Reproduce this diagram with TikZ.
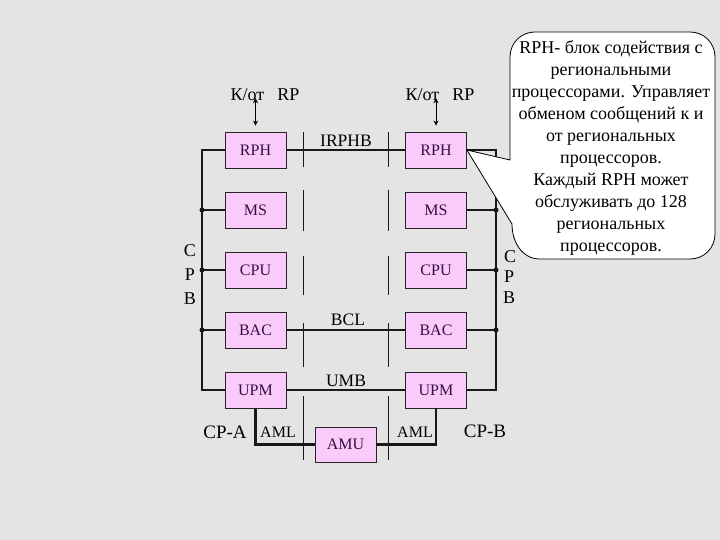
\documentclass[tikz,border=0pt]{standalone}
\usepackage{fontspec}
\setmainfont{Liberation Serif}
\newfontfamily\tnr{Liberation Serif}
\usetikzlibrary{arrows.meta}
\definecolor{bg}{HTML}{E4E4E4}
\definecolor{boxpink}{HTML}{FACAFA}
\definecolor{boxtext}{HTML}{35103F}
\begin{document}
\begin{tikzpicture}[x=1pt,y=-1pt,
  blk/.style={draw=black!85, line width=0.8pt, fill=boxpink, minimum width=61pt, minimum height=36pt, inner sep=0pt, text=boxtext, font=\tnr\fontsize{16}{18}\selectfont},
  bus/.style={line width=2.2pt, black!90},
  sepline/.style={line width=0.9pt, black!90},
  lbl/.style={inner sep=0pt, font=\tnr\fontsize{17.5}{20}\selectfont},
  cpb/.style={inner sep=0pt, font=\tnr\fontsize{18}{20}\selectfont},
  jdot/.style={circle, fill=black!90, inner sep=0pt, minimum size=5pt},
  dbl/.style={{Stealth[length=5pt,width=5pt]}-{Stealth[length=5pt,width=5pt]}, line width=1pt}
]
\fill[bg] (0,0) rectangle (720,540);
\useasboundingbox (0,0) rectangle (720,540);

% separators
\foreach \sx in {303,388}{
  \foreach \a/\b in {132/167,190/231,256/295,323/367,396/460}{
    \draw[sepline] (\sx,\a) -- (\sx,\b);
  }
}

% boxes
\node[blk] (rphL) at (255.5,150) {RPH};
\node[blk] (msL)  at (255.5,210) {MS};
\node[blk] (cpuL) at (255.5,270) {CPU};
\node[blk] (bacL) at (255.5,330) {BAC};
\node[blk] (upmL) at (255.5,390) {UPM};
\node[blk] (rphR) at (436,150) {RPH};
\node[blk] (msR)  at (436,210) {MS};
\node[blk] (cpuR) at (436,270) {CPU};
\node[blk] (bacR) at (436,330) {BAC};
\node[blk] (upmR) at (436,390) {UPM};
\node[blk, minimum height=35pt] (amu) at (345.5,444.5) {AMU};

% buses
\coordinate (lbT) at (202,150);
\coordinate (lbB) at (202,390);
\coordinate (rbT) at (496,150);
\coordinate (rbB) at (496,390);
\draw[bus] (rphL.west) -- (lbT) -- (lbB) -- (upmL.west);
\draw[bus] (rphR.east) -- (rbT) -- (rbB) -- (upmR.east);
\foreach \n in {msL,cpuL,bacL}{
  \draw[bus] (\n.west) -- (\n.west -| lbT) node[jdot]{};
}
\foreach \n in {msR,cpuR,bacR}{
  \draw[bus] (\n.east) -- (\n.east -| rbT) node[jdot]{};
}
\draw[bus] (rphL.east) -- (rphR.west);
\draw[bus] (bacL.east) -- (bacR.west);
\draw[bus] (upmL.east) -- (upmR.west);
\draw[bus] (upmL.south) |- (amu.west);
\draw[bus] (upmR.south) |- (amu.east);

% labels
\node[cpb] (kl) at (265,95) {К/от\hspace{13pt}RP};
\node[cpb] (kr) at (440,95) {К/от\hspace{13pt}RP};
\draw[dbl] (rphL.north |- kl.south) ++(0,-3) coordinate (al1) -- ([yshift=6pt]rphL.north);
\draw[dbl] (rphR.north |- kr.south) ++(0,-3) coordinate (ar1) -- ([yshift=6pt]rphR.north);
\node[lbl] (irphb) at (346,141) {IRPHB};
\node[lbl] (bcl) at (348,320) {BCL};
\node[lbl] (umb) at (346,381) {UMB};
\node[inner sep=0pt, font=\tnr\fontsize{19}{20}\selectfont] (cpa) at (225,432) {CP-A};
\node[inner sep=0pt, font=\tnr\fontsize{19}{20}\selectfont] (cpbb) at (485,431) {CP-B};
\node[inner sep=0pt, font=\tnr\fontsize{16}{18}\selectfont] (amlL) at (278,432) {AML};
\node[inner sep=0pt, font=\tnr\fontsize{16}{18}\selectfont] (amlR) at (415,432) {AML};
\node[cpb] (c1) at (190,251) {C};
\node[cpb] (p1) at (190,275) {P};
\node[cpb] (b1) at (190,299) {B};
\node[cpb] (c2) at (510,257) {C};
\node[cpb] (p2) at (509,277) {P};
\node[cpb] (b2) at (509,298) {B};

% callout
\draw[fill=white, line width=0.8pt] (rphR.east) -- (510,160) -- (510,57)
  .. controls (510,43) and (521,32) .. (535,32) -- (690,32)
  .. controls (704,32) and (715,43) .. (715,57) -- (715,234)
  .. controls (715,248) and (704,259) .. (690,259) -- (540,259)
  .. controls (522,259) and (512,242) .. (512,224) -- cycle;
\node[inner sep=0pt, align=center, font=\tnr\fontsize{18}{22.1}\selectfont] (note) at (611,148)
  {RPH- блок содействия с\\региональными\\процессорами. Управляет\\обменом сообщений к и\\от региональных\\процессоров.\\Каждый RPH может\\обслуживать до 128\\региональных\\процессоров.};
\end{tikzpicture}
\end{document}
